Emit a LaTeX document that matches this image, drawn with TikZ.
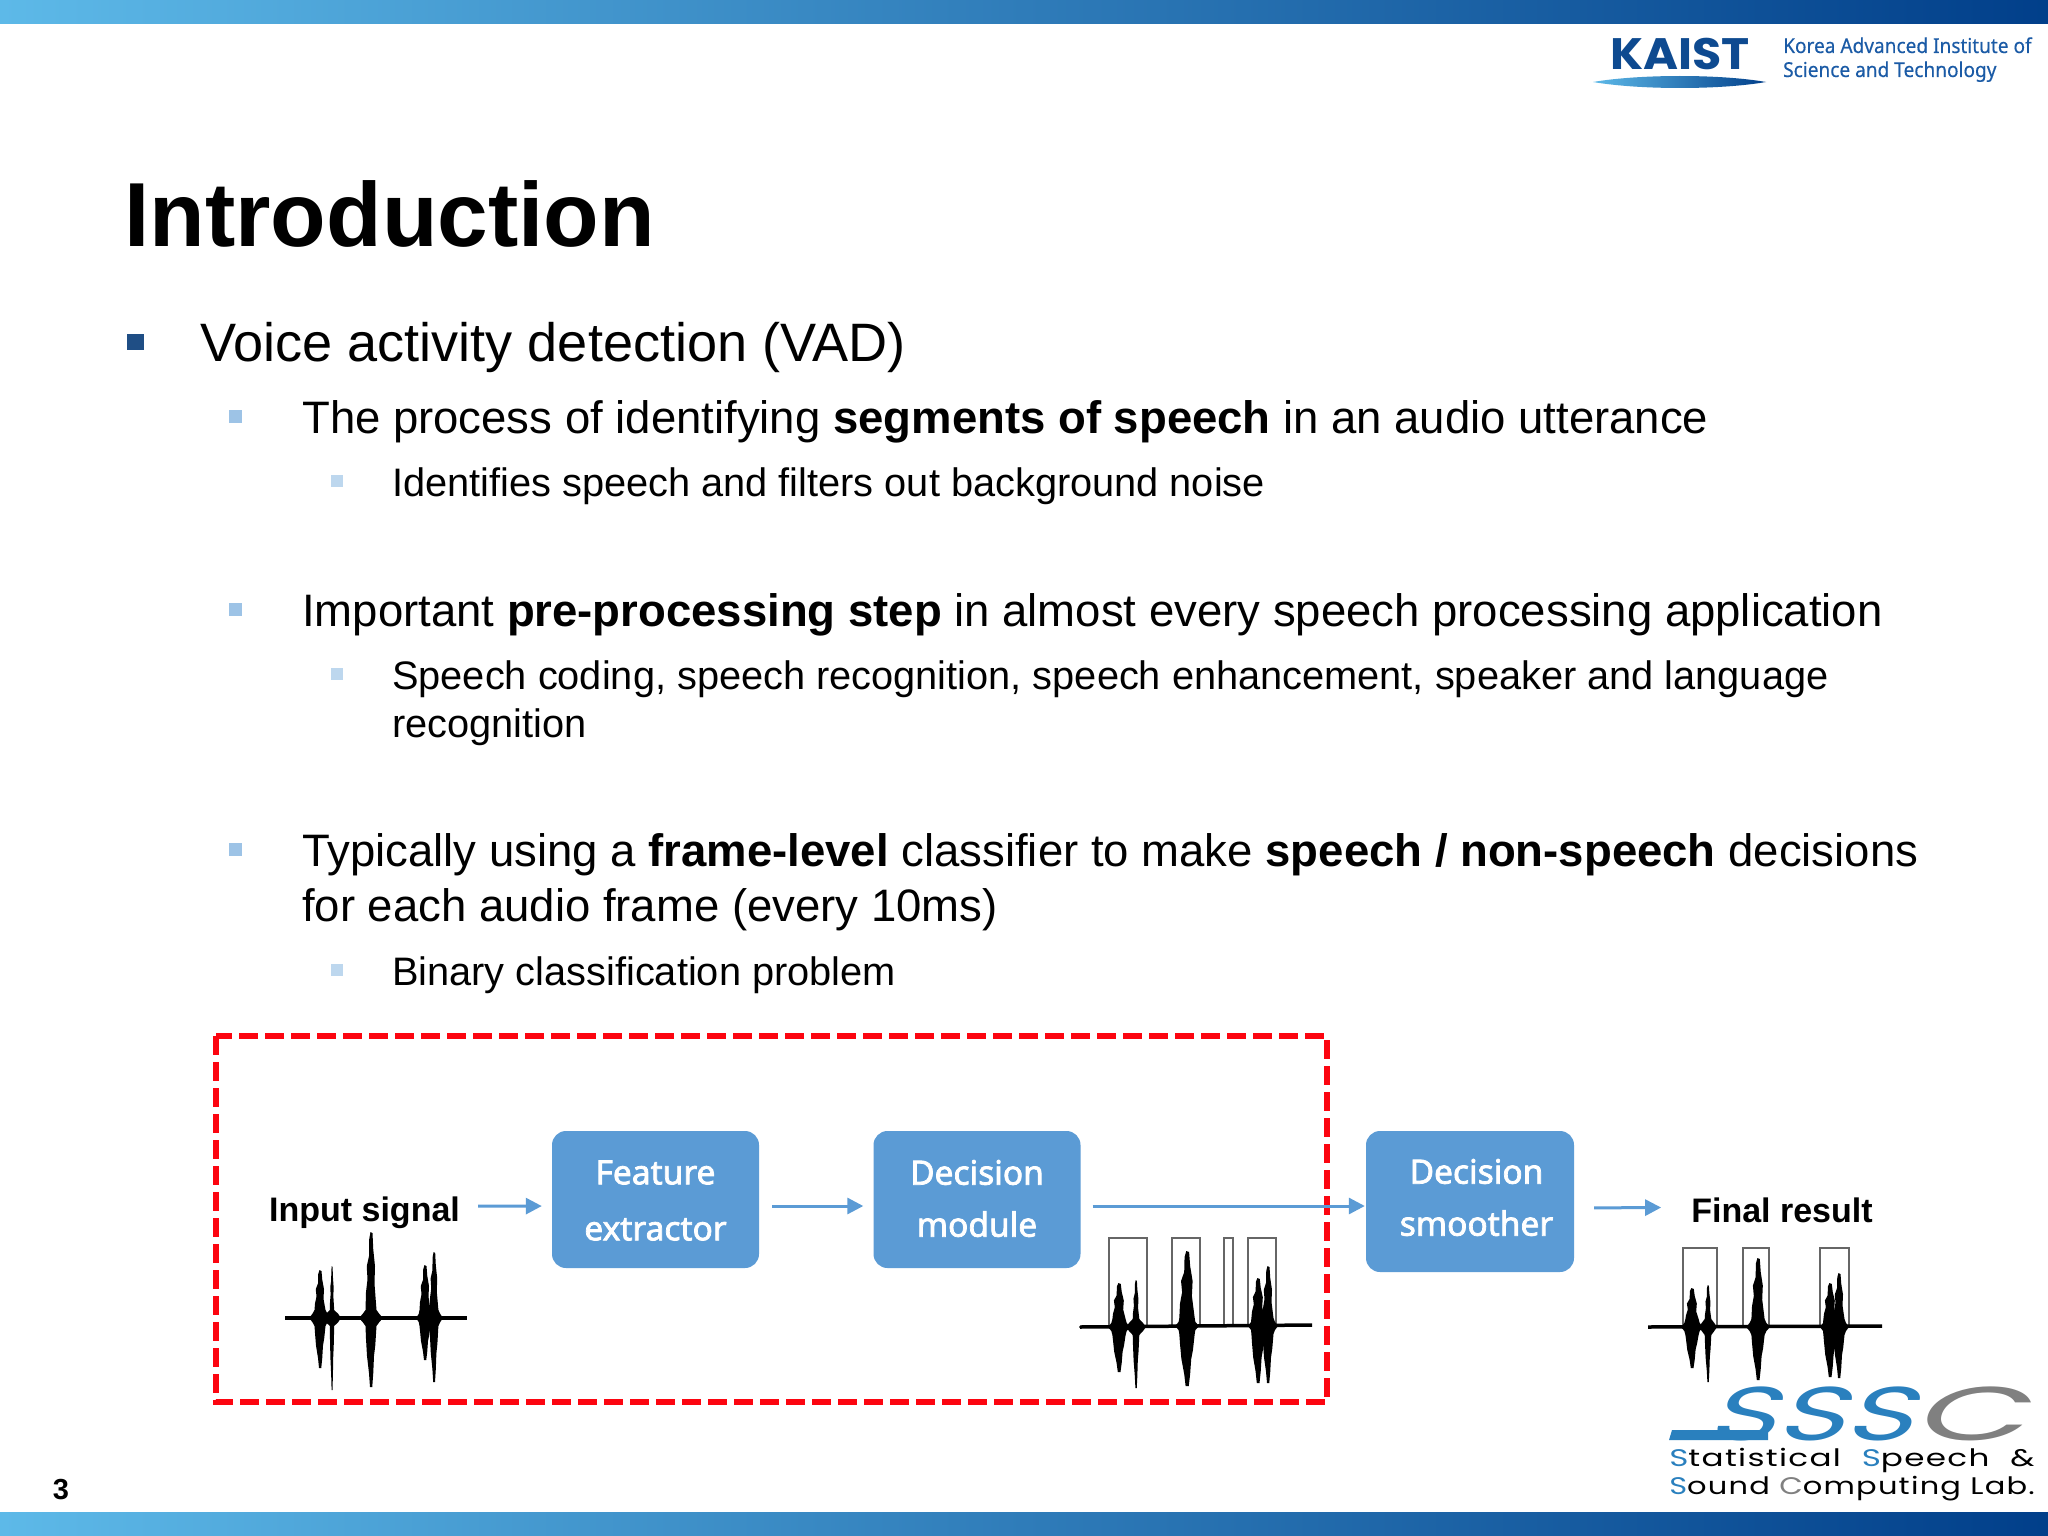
\documentclass[tikz,border=0pt]{standalone}
\usepackage{fontspec}
\setmainfont{Liberation Sans}
\newfontfamily\boxfont{Noto Sans}[FakeBold=2.2]
\newfontfamily\korfont{Noto Sans}[FakeBold=0.4]
\newfontfamily\kaistfont{Poppins}
\newfontfamily\labfont{Poppins}[LetterSpace=4]
\usetikzlibrary{arrows.meta,shadings}
\definecolor{barL}{HTML}{5DB9E8}
\definecolor{barM}{HTML}{0F70B7}
\definecolor{barR}{HTML}{013F8A}
\definecolor{boxblue}{HTML}{5B9BD5}
\definecolor{kaistblue}{HTML}{0E4A90}
\definecolor{kaisttext}{HTML}{1B5BA6}
\definecolor{bulA}{HTML}{1F4E85}
\definecolor{bulB}{HTML}{9DC3E6}
\definecolor{bulC}{HTML}{BDD7EE}
\definecolor{redbox}{HTML}{FC0510}
\definecolor{sssblue}{HTML}{2A80BE}
\definecolor{sssgray}{HTML}{808080}
\tikzset{
  txt/.style={anchor=base west,inner sep=0pt,text=black},
  lone/.style={txt,font=\fontsize{54.1}{60}\selectfont},
  ltwo/.style={txt,font=\fontsize{45.5}{54}\selectfont},
  lthree/.style={txt,font=\fontsize{39.75}{48}\selectfont},
  bullone/.style={fill=bulA,draw=none},
  bulltwo/.style={fill=bulB,draw=none},
  bullthree/.style={fill=bulC,draw=none},
  stage/.style={draw=none,fill=boxblue,rounded corners=14pt,inner sep=0pt,text=white,align=center,
    font=\boxfont\fontsize{33.5}{52}\selectfont},
  flow/.style={draw=boxblue,line width=3pt,-{Triangle[length=16pt,width=16pt]}},
  siglabel/.style={inner sep=0pt,anchor=base,font=\bfseries\fontsize{34}{40}\selectfont},
  gate/.style={draw=black!60,line width=2pt},
  axisline/.style={draw=black,line width=3.5pt},
}
\newcommand{\wvspike}[6]{%
  \fill[black] ({#1-#6},{#2})
  -- ({#1-#6*0.7},{#2-4})
  -- ({#1-#5*1.1},{#2-8})
  -- ({#1-#5},{#2-0.3*(#2-#3)})
  -- ({#1-#5*0.7},{#2-0.45*(#2-#3)})
  -- ({#1-#5*0.85},{#2-0.6*(#2-#3)})
  -- ({#1-#5*0.4},{#2-0.72*(#2-#3)})
  -- ({#1-#5*0.35},{#2-0.92*(#2-#3)})
  -- ({#1-#5*0.1},{#3})
  -- ({#1+#5*0.3},{#3+1})
  -- ({#1+#5*0.45},{#2-0.8*(#2-#3)})
  -- ({#1+#5*0.8},{#2-0.6*(#2-#3)})
  -- ({#1+#5*0.7},{#2-0.4*(#2-#3)})
  -- ({#1+#5*1.1},{#2-8})
  -- ({#1+#6*0.7},{#2-4})
  -- ({#1+#6},{#2})
  -- ({#1+#6*0.7},{#2+4})
  -- ({#1+#5*1.1},{#2+8})
  -- ({#1+#5*0.85},{#2+0.4*(#4-#2)})
  -- ({#1+#5*0.6},{#2+0.55*(#4-#2)})
  -- ({#1+#5*0.45},{#2+0.8*(#4-#2)})
  -- ({#1+#5*0.25},{#4})
  -- ({#1-#5*0.2},{#4})
  -- ({#1-#5*0.4},{#2+0.8*(#4-#2)})
  -- ({#1-#5*0.8},{#2+0.55*(#4-#2)})
  -- ({#1-#5},{#2+0.3*(#4-#2)})
  -- ({#1-#5*1.1},{#2+8})
  -- ({#1-#6*0.7},{#2+4})
  -- cycle;}
\begin{document}
\begin{tikzpicture}[x=1pt,y=-1pt]
\useasboundingbox (0,0) rectangle (2048,1536);
\fill[white] (0,0) rectangle (2048,1536);
% bars
\shade[left color=barL,middle color=barM,right color=barR,shading angle=90,draw=none] (0,0) rectangle (2048,24);
\shade[left color=barL,middle color=barM,right color=barR,shading angle=90,draw=none] (0,1512) rectangle (2048,1536);
% KAIST logo
\node[inner sep=0pt,anchor=base west,text=kaistblue,xscale=1.08,font=\kaistfont\bfseries\fontsize{44}{50}\selectfont] (kaist) at (1610,70) {KAIST};
\shade[left color=barL,right color=barR,draw=none] (1593,82) .. controls (1640,74) and (1720,74) .. (1766,82) .. controls (1720,90) and (1640,90) .. (1593,82) -- cycle;
\node[inner sep=0pt,anchor=base west,text=kaisttext,xscale=0.93,font=\korfont\fontsize{20.5}{24}\selectfont] (korea) at (1783,53) {Korea Advanced Institute of};
\node[inner sep=0pt,anchor=base west,text=kaisttext,xscale=0.93,font=\korfont\fontsize{20.5}{24}\selectfont] (science) at (1783,77) {Science and Technology};
% title
\node[txt,font=\bfseries\fontsize{91}{100}\selectfont] (title) at (124,246) {Introduction};
% bullets
\fill[bullone] (127,334) rectangle (144,350);
\fill[bulltwo] (229,410) rectangle (242,423);
\fill[bullthree] (331,475) rectangle (343,487);
\fill[bulltwo] (229,603) rectangle (242,616);
\fill[bullthree] (331,668) rectangle (343,680);
\fill[bulltwo] (229,843) rectangle (242,856);
\fill[bullthree] (331,964) rectangle (343,976);
% body
\node[lone] (t1) at (200,361) {Voice activity detection (VAD)};
\node[ltwo] (t2) at (302,433) {The process of identifying \textbf{segments of speech} in an audio utterance};
\node[lthree] (t3) at (392,496) {Identifies speech and filters out background noise};
\node[ltwo] (t4) at (302,626) {Important \textbf{pre-processing step} in almost every speech processing application};
\node[lthree] (t5) at (392,689) {Speech coding, speech recognition, speech enhancement, speaker and language};
\node[lthree] (t6) at (392,737) {recognition};
\node[ltwo] (t7) at (302,866) {Typically using a \textbf{frame-level} classifier to make \textbf{speech / non-speech} decisions};
\node[ltwo] (t8) at (302,921) {for each audio frame (every 10ms)};
\node[lthree] (t9) at (392,985) {Binary classification problem};
% red box
\draw[redbox,line width=6pt,dash pattern=on 19pt off 7pt] (215.5,1036) rectangle (1327,1401.5);
% stages
\node[stage,minimum width=207pt,minimum height=137pt] (feat) at (655.5,1199.5) {\raisebox{1pt}[\height][\depth]{Feature}\\\raisebox{-3pt}[\height][\depth]{extractor}};
\node[stage,minimum width=207pt,minimum height=137pt] (dec) at (977,1199.5) {\raisebox{1pt}[\height][\depth]{Decision}\\\raisebox{1pt}[\height][\depth]{module}};
\node[stage,minimum width=208pt,minimum height=141pt] (smo) at (1470,1201.5) {\hspace*{13pt}\raisebox{4pt}[\height][\depth]{Decision}\\\hspace*{13pt}\raisebox{4pt}[\height][\depth]{smoother}};
\node[siglabel] (inp) at (364.5,1221) {Input signal};
\node[siglabel] (fin) at (1782,1222) {Final result};
% arrows
\draw[flow,shorten <=18pt,shorten >=10pt] ([yshift=6pt]inp.east) -- ([yshift=-6.5pt]feat.west);
\draw[flow,shorten <=13pt,shorten >=10pt] ([yshift=-6.5pt]feat.east) -- ([yshift=-6.5pt]dec.west);
\draw[flow,shorten <=12pt,shorten >=1pt] ([yshift=-6.5pt]dec.east) -- ([yshift=-4.5pt]smo.west);
\draw[flow,shorten <=20pt,shorten >=30pt] ([yshift=-6.5pt]smo.east) -- ([yshift=2.5pt]fin.west);
% input wave
\draw[axisline] (285,1318) -- (467,1318);
\wvspike{320}{1318}{1270}{1368}{5}{11}
\wvspike{332}{1318}{1266}{1390}{2}{9}
\wvspike{371}{1318}{1232}{1387}{5}{12}
\wvspike{425}{1318}{1265}{1360}{5}{9}
\wvspike{434}{1318}{1252}{1382}{4}{9}
% decision wave
\draw[gate] (1079,1327) -- (1109,1327) -- (1109,1238) -- (1147,1238) -- (1147,1326) -- (1172,1326) -- (1172,1238) -- (1200,1238) -- (1200,1326) -- (1224,1326) -- (1224,1238) -- (1233,1238) -- (1233,1326) -- (1248,1326) -- (1248,1238) -- (1276,1238) -- (1276,1325);
\draw[axisline] (1080,1327) -- (1312,1325);
\wvspike{1119}{1327}{1283}{1372}{6}{11}
\wvspike{1136}{1327}{1280}{1388}{3}{10}
\wvspike{1187}{1326}{1251}{1386}{7}{12}
\wvspike{1258}{1326}{1278}{1383}{6}{10}
\wvspike{1268}{1326}{1266}{1383}{5}{10}
% final wave
\draw[gate] (1683,1327) -- (1683,1248) -- (1717,1248) -- (1717,1327);
\draw[gate] (1743,1327) -- (1743,1248) -- (1769,1248) -- (1769,1327);
\draw[gate] (1820,1327) -- (1820,1248) -- (1849,1248) -- (1849,1327);
\draw[axisline] (1648,1327) -- (1882,1326);
\wvspike{1692}{1327}{1288}{1368}{6}{11}
\wvspike{1708}{1327}{1285}{1382}{3}{9}
\wvspike{1758}{1327}{1258}{1380}{6}{12}
\wvspike{1830}{1327}{1283}{1377}{6}{10}
\wvspike{1839}{1327}{1273}{1378}{5}{10}
% SSSC logo
\fill[sssblue] (1672,1430) -- (1768,1430) -- (1768,1440) -- (1669,1440) -- cycle;
\node[inner sep=0pt,anchor=base west,font=\kaistfont\fontsize{76}{80}\selectfont,xscale=1.54,xslant=0.25] (sss) at (1706,1440) {\textcolor{sssblue}{SSS}\textcolor{sssgray}{\scalebox{1.25}[1]{C}}};
\node[inner sep=0pt,anchor=base west,font=\labfont\fontsize{24}{28}\selectfont,xscale=1.36] (lab1) at (1669,1466) {\textcolor{sssblue}{S}tatistical\hspace{8pt} \textcolor{sssblue}{S}peech\hspace{8pt} \&};
\node[inner sep=0pt,anchor=base west,font=\labfont\fontsize{24}{28}\selectfont,xscale=1.27] (lab2) at (1669,1494) {\textcolor{sssblue}{S}ound \textcolor{sssgray}{C}omputing Lab.};
% page number
\node[inner sep=0pt,anchor=base,font=\bfseries\fontsize{29}{32}\selectfont] (pg) at (61,1499) {3};
\end{tikzpicture}
\end{document}
